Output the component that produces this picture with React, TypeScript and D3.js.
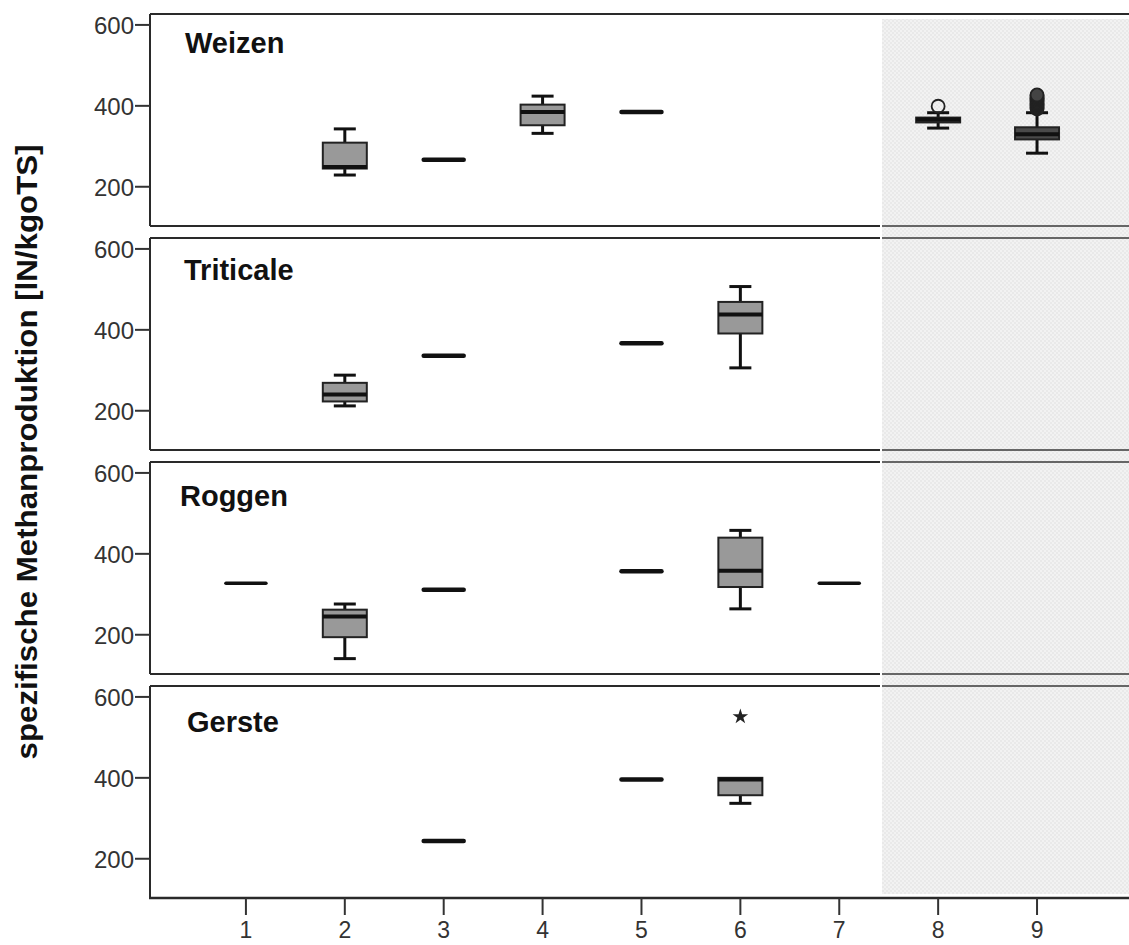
import React from "react";
import * as d3 from "d3";

// ---------- data ----------
const categories = [1, 2, 3, 4, 5, 6, 7, 8, 9];
const panelNames = ["Weizen", "Triticale", "Roggen", "Gerste"];
const yTicks = [200, 400, 600];
const yLabel = "spezifische Methanproduktion [lN/kgoTS]";

// [category, min, q1, median, q3, max]
const weizenBoxes = [
  [2, 229, 245, 249, 309, 343],
  [3, 267, 267, 267, 267, 267],
  [4, 332, 352, 385, 403, 424],
  [5, 385, 385, 385, 385, 385],
  [8, 345, 359, 366, 371, 383],
  [9, 283, 317, 330, 347, 383],
];
// [category, value]
const weizenOutliers = [
  [8, 399],
  [9, 392], [9, 395], [9, 398], [9, 401], [9, 404], [9, 407],
  [9, 410], [9, 413], [9, 416], [9, 419], [9, 422], [9, 425], [9, 427],
];
const triticaleBoxes = [
  [2, 212, 223, 240, 269, 288],
  [3, 336, 336, 336, 336, 336],
  [5, 367, 367, 367, 367, 367],
  [6, 306, 391, 438, 469, 507],
];
const triticaleOutliers: number[][] = [];
const roggenBoxes = [
  [1, 327, 327, 327, 327, 327],
  [2, 141, 194, 245, 262, 276],
  [3, 311, 311, 311, 311, 311],
  [5, 357, 357, 357, 357, 357],
  [6, 264, 318, 358, 440, 458],
  [7, 327, 327, 327, 327, 327],
];
const roggenOutliers: number[][] = [];
const gersteBoxes = [
  [3, 244, 244, 244, 244, 244],
  [5, 396, 396, 396, 396, 396],
  [6, 337, 357, 396, 400, 400],
];
const gersteOutliers: number[][] = [];
const gersteExtremes = [[6, 551]];

const panelBoxes = [weizenBoxes, triticaleBoxes, roggenBoxes, gersteBoxes];
const panelOutliers = [weizenOutliers, triticaleOutliers, roggenOutliers, gersteOutliers];
const panelExtremes = [[], [], [], gersteExtremes];

// ---------- layout ----------
const W = 1129;
const H = 945;
const left = 150;
const panelTop0 = 14;
const panelStep = 224;
const panelH = 212;
const shadeStart = 882;
const titleOffsets = [
  [185, 39],
  [184, 42],
  [180, 44],
  [187, 46],
];
const FONT = "'Liberation Sans', Arial, sans-serif";

const x = d3.scaleLinear().domain([0.03, 9.93]).range([left, W]);
const boxW = 44;
const capW = 22;

function Panel({ i }: { i: number }) {
  const top = panelTop0 + panelStep * i;
  const y = d3.scaleLinear().domain([103, 627]).range([top + panelH, top]);
  const boxes = panelBoxes[i];
  const outl = panelOutliers[i];
  const ext = panelExtremes[i] as number[][];
  const star = d3.symbol().type(d3.symbolStar).size(75)();
  const isFirst = i === 0;
  return (
    <g>
      {isFirst ? (
        <line x1={left} x2={W} y1={top} y2={top} stroke="#2a2a2a" strokeWidth={2} />
      ) : (
        <g>
          <line x1={left} x2={880} y1={top} y2={top} stroke="#2a2a2a" strokeWidth={2} />
          <line x1={shadeStart} x2={W} y1={top} y2={top} stroke="#666" strokeWidth={2} />
        </g>
      )}
      {i < 3 ? (
        <g>
          <line x1={left} x2={880} y1={top + panelH} y2={top + panelH} stroke="#2a2a2a" strokeWidth={2} />
          <line x1={shadeStart} x2={W} y1={top + panelH} y2={top + panelH} stroke="#666" strokeWidth={2} />
        </g>
      ) : null}
      <line x1={left} x2={left} y1={top} y2={top + panelH} stroke="#2a2a2a" strokeWidth={2} />
      {yTicks.map((t) => (
        <g key={t}>
          <line x1={left - 15} x2={left} y1={y(t)} y2={y(t)} stroke="#333" strokeWidth={2} />
          <text
            x={left - 16}
            y={y(t) + 9}
            textAnchor="end"
            fontFamily={FONT}
            fontSize={24}
            fill="#333"
          >
            {t}
          </text>
        </g>
      ))}
      <text
        x={titleOffsets[i][0]}
        y={top + titleOffsets[i][1]}
        fontFamily={FONT}
        fontWeight="bold"
        fontSize={29}
        fill="#111"
      >
        {panelNames[i]}
      </text>
      {boxes.map((b) => {
        const [c, mn, q1, md, q3, mx] = b;
        const cx = x(c);
        const shaded = c >= 8;
        if (mn === mx) {
          return (
            <line
              key={c}
              x1={cx - boxW / 2 + 2}
              x2={cx + boxW / 2 - 2}
              y1={y(md)}
              y2={y(md)}
              stroke="#111"
              strokeWidth={c === 1 || c === 7 ? 3.5 : 4.5}
              strokeLinecap="round"
            />
          );
        }
        return (
          <g key={c}>
            {mn < q1 && (
              <g>
                <line x1={cx} x2={cx} y1={y(q1)} y2={y(mn)} stroke="#111" strokeWidth={3} />
                <line x1={cx - capW / 2} x2={cx + capW / 2} y1={y(mn)} y2={y(mn)} stroke="#111" strokeWidth={3} />
              </g>
            )}
            {mx > q3 && (
              <g>
                <line x1={cx} x2={cx} y1={y(q3)} y2={y(mx)} stroke="#111" strokeWidth={3} />
                <line x1={cx - capW / 2} x2={cx + capW / 2} y1={y(mx)} y2={y(mx)} stroke="#111" strokeWidth={3} />
              </g>
            )}
            <rect
              x={cx - boxW / 2}
              width={boxW}
              y={y(q3)}
              height={y(q1) - y(q3)}
              fill={shaded ? "#4a4a4a" : "#999"}
              stroke="#222"
              strokeWidth={2}
            />
            <line
              x1={cx - boxW / 2}
              x2={cx + boxW / 2}
              y1={y(md)}
              y2={y(md)}
              stroke="#111"
              strokeWidth={4}
            />
          </g>
        );
      })}
      {outl.map((o, k) => (
        <circle
          key={"o" + k}
          cx={x(o[0])}
          cy={y(o[1])}
          r={6.5}
          fill={o[0] === 9 ? "#444" : "none"}
          stroke="#222"
          strokeWidth={1.8}
        />
      ))}
      {ext.map((e, k) => (
        <path
          key={"e" + k}
          d={star || ""}
          transform={`translate(${x(e[0])},${y(e[1])})`}
          fill="#222"
        />
      ))}
    </g>
  );
}

export default function App() {
  const axisY = panelTop0 + panelStep * 3 + panelH;
  return (
    <svg
      width={W}
      height={H}
      style={{ position: "absolute", left: 0, top: 0, background: "#fff" }}
    >
      <defs>
        <pattern id="shade" width={4} height={4} patternUnits="userSpaceOnUse">
          <rect width={4} height={4} fill="#f2f2f2" />
          <rect width={2} height={2} fill="#e9e9e9" />
          <rect x={2} y={2} width={2} height={2} fill="#e9e9e9" />
        </pattern>
      </defs>
      <rect
        x={shadeStart}
        y={19}
        width={W - shadeStart}
        height={axisY - 4 - 19}
        fill="url(#shade)"
      />
      {panelNames.map((_, i) => (
        <Panel key={i} i={i} />
      ))}
      <line x1={left - 1} x2={W} y1={axisY} y2={axisY} stroke="#2a2a2a" strokeWidth={2.5} />
      {categories.map((c) => (
        <g key={c}>
          <line x1={x(c)} x2={x(c)} y1={axisY} y2={axisY + 17} stroke="#333" strokeWidth={2} />
          <text
            x={x(c)}
            y={axisY + 40}
            textAnchor="middle"
            fontFamily={FONT}
            fontSize={23}
            fill="#333"
          >
            {c}
          </text>
        </g>
      ))}
      <text
        transform="translate(37,452) rotate(-90)"
        textAnchor="middle"
        fontFamily={FONT}
        fontWeight="bold"
        fontSize={29}
        textLength={615}
        lengthAdjust="spacingAndGlyphs"
        fill="#111"
      >
        {yLabel}
      </text>
    </svg>
  );
}
